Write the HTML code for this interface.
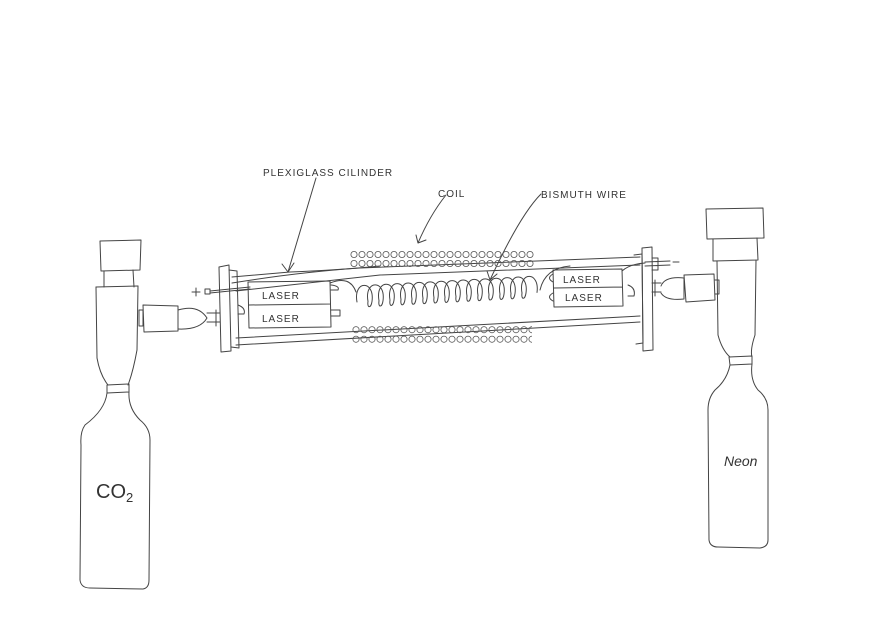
<!DOCTYPE html>
<html><head><meta charset="utf-8"><style>
html,body{margin:0;padding:0;background:#fff;}
svg{display:block}
text{font-family:"Liberation Sans",sans-serif;fill:#333;}
</style></head><body>
<svg width="877" height="638" viewBox="0 0 877 638" xmlns="http://www.w3.org/2000/svg">
<defs>
<pattern id="c" x="350" y="250" width="8" height="9" patternUnits="userSpaceOnUse">
<circle cx="4" cy="4.5" r="3.1" fill="none" stroke="#555" stroke-width="0.8"/>
</pattern>
<pattern id="c2" x="352" y="325" width="8" height="9.5" patternUnits="userSpaceOnUse">
<circle cx="4" cy="4.7" r="3.1" fill="none" stroke="#555" stroke-width="0.8"/>
</pattern>
</defs>
<rect width="877" height="638" fill="#fff"/>
<g fill="none" stroke="#444" stroke-width="1" stroke-linejoin="round" stroke-linecap="round">
<path d="M100,241 L141,240 L140,270 L101,271 Z"/>
<path d="M104,271 L104,287 M133,270 L134,287"/>
<path d="M96,287 L138,286"/>
<path d="M96,287 L97,358 Q100,375 108,385 M138,286 L137,350 Q133,372 128,385"/>
<path d="M107,385 L129,384 L129,392 L107,393 Z"/>
<path d="M107,393 Q105,410 85,425 Q80,432 81,445 L80,580 Q81,588 90,588 L143,589 Q149,588 149,580 L150,440 Q150,428 140,420 Q128,408 129,392"/>
<path d="M139,310 L143,310 L143,326 L139,326 Z"/>
<path d="M143,305 L178,306 L178,331 L144,332 Z"/>
<path d="M178,310 Q198,304 207,318 Q200,330 178,329"/>
<path d="M207,313 L220,313 M207,322 L220,322 M216,310 L216,326"/>
<path d="M192,292 L200,292 M196,288 L196,296"/>
<path d="M205,289 L210,289 L210,294 L205,294 Z M210,291 L250,287 M210,293 L250,289"/>
<path d="M219,267 L229,265 L231,351 L221,352 Z"/>
<path d="M229,270 L237,271 L239,348 L231,347"/>
<path d="M232,283 Q300,272 360,268 L640,257"/>
<path d="M232,277 L290,272 Q340,270 380,266"/>
<path d="M236,291 Q300,284 380,275 L640,265"/>
<path d="M236,345 L640,322"/>
<path d="M236,338 L640,316"/>
<path d="M248,282 L330,281 L331,327 L249,328 Z M249,305 L330,304"/>
<path d="M331,285 Q340,286 338,290 L331,290 M331,310 L340,310 L340,316 L331,316"/>
<path d="M238,305 Q246,308 244,314 L238,314"/>
<path d="M330,283 Q350,275 356,292"/>
<path d="M357,302 c -4,-22 18,-22 15,-0.6 c -1,7 -5,7 -4,0 c -4,-22 18,-22 15,-0.6 c -1,7 -5,7 -4,0 c -4,-22 18,-22 15,-0.6 c -1,7 -5,7 -4,0 c -4,-22 18,-22 15,-0.6 c -1,7 -5,7 -4,0 c -4,-22 18,-22 15,-0.6 c -1,7 -5,7 -4,0 c -4,-22 18,-22 15,-0.6 c -1,7 -5,7 -4,0 c -4,-22 18,-22 15,-0.6 c -1,7 -5,7 -4,0 c -4,-22 18,-22 15,-0.6 c -1,7 -5,7 -4,0 c -4,-22 18,-22 15,-0.6 c -1,7 -5,7 -4,0 c -4,-22 18,-22 15,-0.6 c -1,7 -5,7 -4,0 c -4,-22 18,-22 15,-0.6 c -1,7 -5,7 -4,0 c -4,-22 18,-22 15,-0.6 c -1,7 -5,7 -4,0 c -4,-22 18,-22 15,-0.6 c -1,7 -5,7 -4,0 c -4,-22 18,-22 15,-0.6 c -1,7 -5,7 -4,0 c -4,-22 18,-22 15,-0.6 c -1,7 -5,7 -4,0 c -4,-22 18,-22 15,-0.6"/>
<path d="M540,290 Q545,268 570,266"/>
<path d="M553,270 L622,269 L623,306 L554,307 Z M554,288 L622,287"/>
<path d="M553,274 Q546,278 553,282 M553,293 Q546,297 553,301"/>
<path d="M628,285 Q636,288 634,296 L628,296"/>
<path d="M622,271 Q630,264 645,263"/>
<path d="M642,248 L652,247 L653,350 L643,351 Z"/>
<path d="M634,255 L642,254 L643,343 L636,344"/>
<path d="M645,262 L670,261 M645,266 L670,265 M652,258 L658,258 L658,270 L652,270"/>
<path d="M673,262 L679,262"/>
<path d="M652,283 L661,283 M652,292 L661,292 M655,280 L655,296"/>
<path d="M661,286 Q665,276 684,278 L684,299 Q666,301 661,293"/>
<path d="M684,275 L714,274 L715,300 L686,302 Z"/>
<path d="M715,280 L719,280 L719,294 L715,294"/>
<path d="M706,209 L763,208 L764,238 L707,239 Z"/>
<path d="M713,239 L713,261 L758,260 L757,238"/>
<path d="M717,261 L718,335 Q722,350 730,357 M756,260 L755,335 Q750,350 752,357"/>
<path d="M729,357 L752,356 L752,364 L730,365 Z"/>
<path d="M730,365 Q727,380 715,390 Q708,398 708,410 L709,540 Q710,547 718,547 L760,548 Q768,547 768,540 L768,410 Q768,398 758,390 Q750,380 752,364"/>
<path d="M316,178 L288,272 M282,264 L288,272 L294,263"/>
<path d="M446,195 Q430,215 418,243 M416,235 L418,243 L426,240"/>
<path d="M541,194 Q520,215 490,280 M487,271 L490,280 L497,274"/>
</g>
<rect x="350" y="250" width="184" height="18" fill="url(#c)"/>
<rect x="352" y="325" width="180" height="19" fill="url(#c2)"/>
<g font-size="10" letter-spacing="1">
<text x="263" y="176">PLEXIGLASS CILINDER</text>
<text x="438" y="197">COIL</text>
<text x="541" y="198">BISMUTH WIRE</text>
<text x="262" y="299">LASER</text>
<text x="262" y="322">LASER</text>
<text x="563" y="283">LASER</text>
<text x="565" y="301">LASER</text>
</g>
<text x="96" y="498" font-size="20">CO<tspan font-size="13" dy="4">2</tspan></text>
<text x="724" y="466" font-size="14" font-style="italic">Neon</text>
</svg>
</body></html>
